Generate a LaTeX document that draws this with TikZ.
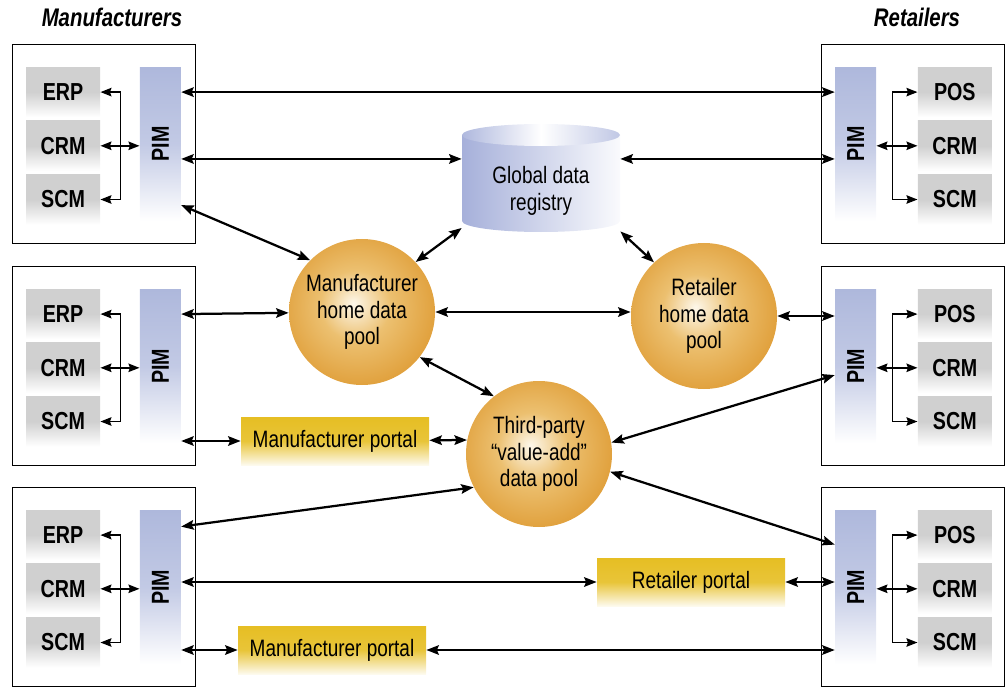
\documentclass[tikz,border=0pt]{standalone}
\usepackage{fontspec}
\setmainfont{Liberation Sans}[FakeStretch=0.8]
\usepackage{graphicx}
\usepackage{xcolor}
\usepackage{tikz}
\usetikzlibrary{arrows.meta,positioning}
\definecolor{modgray}  {RGB}{208,208,208}
\definecolor{pimblue}  {RGB}{174,184,220}
\definecolor{regblue}  {RGB}{166,176,218}
\definecolor{portgold} {RGB}{230,190,35}
\definecolor{poolin}   {RGB}{253,247,234}
\definecolor{poollight}{RGB}{236,192,112}
\definecolor{poolmid}  {RGB}{222,154,50}
\definecolor{poolout}  {RGB}{206,134,32}
\pgfdeclareradialshading{poolball}{\pgfpoint{-3bp}{3bp}}{%
  color(0bp)=(poolin); color(12bp)=(poollight);
  color(30bp)=(poolmid); color(50bp)=(poolout)}
\newcommand{\lblsize}{\fontsize{13.5}{15}\selectfont}
\tikzset{
  sysbox/.style ={draw, line width=0.3mm, minimum width=36.6mm,
                  minimum height=39.8mm, inner sep=0pt},
  modbox/.style ={top color=modgray, bottom color=white, middle color=modgray,
                  minimum width=14.8mm, minimum height=10mm, inner sep=0pt,
                  font=\fontsize{14}{15}\selectfont\bfseries},
  pimbox/.style ={top color=pimblue, bottom color=white, middle color=pimblue!75,
                  minimum width=8.2mm, minimum height=30.8mm, inner sep=0pt,
                  font=\fontsize{14}{15}\selectfont\bfseries},
  portbox/.style={top color=portgold, bottom color=portgold!8,
                  middle color=portgold!90, minimum width=37.6mm,
                  minimum height=9.6mm, inner sep=0pt, font=\lblsize},
  pool/.style   ={circle, shade, shading=poolball, minimum size=29.2mm,
                  inner sep=0pt, align=center, font=\lblsize},
  regbox/.style ={minimum width=31.6mm, minimum height=17.2mm, inner sep=0pt,
                  align=center, font=\lblsize},
  sidetitle/.style={font=\fontsize{14.5}{16}\selectfont\bfseries\itshape},
  arr/.style    ={{Stealth[length=2.5mm,width=1.9mm,inset=0.4mm]}-{Stealth[length=2.5mm,width=1.9mm,inset=0.4mm]},
                  line width=0.45mm},
  brk/.style    ={{Stealth[length=2.2mm,width=1.7mm,inset=0.3mm]}-{Stealth[length=2.2mm,width=1.7mm,inset=0.3mm]},
                  line width=0.3mm},
}
\begin{document}
\begin{tikzpicture}[x=0.2mm,y=-0.2mm]
  \useasboundingbox (0,0) rectangle (1007,688);

  \node[sidetitle] (mtitle) at (112,17) {Manufacturers};
  \node[sidetitle] (rtitle) at (917,17) {Retailers};

  % manufacturer and retailer systems
  \foreach \r/\y in {1/144,2/366,3/587}{
    \node[sysbox] (sysL\r) at (104,\y) {};
    \node[modbox, below right=4.6mm and 2.8mm of sysL\r.north west] (erpL\r) {ERP};
    \node[modbox, below=0.6mm of erpL\r] (crmL\r) {CRM};
    \node[modbox, below=0.6mm of crmL\r] (scmL\r) {SCM};
    \node[pimbox, below right=0mm and 7.8mm of erpL\r.north east] (pimL\r)
         {\rotatebox{90}{PIM}};
    \draw[brk] (erpL\r.east) -- ++(4mm,0) |- (scmL\r.east);
    \draw[brk] (crmL\r.east) -- (pimL\r.west |- crmL\r.east);

    \node[sysbox] (sysR\r) at (913,\y) {};
    \node[pimbox, below right=4.6mm and 2.8mm of sysR\r.north west] (pimR\r)
         {\rotatebox{90}{PIM}};
    \node[modbox, below right=0mm and 8.2mm of pimR\r.north east] (posR\r) {POS};
    \node[modbox, below=0.6mm of posR\r] (crmR\r) {CRM};
    \node[modbox, below=0.6mm of crmR\r] (scmR\r) {SCM};
    \draw[brk] (posR\r.west) -- ++(-5mm,0) |- (scmR\r.west);
    \draw[brk] (pimR\r.east |- crmR\r.west) -- (crmR\r.west);
  }

  % global registry (cylinder)
  \shade[left color=regblue, right color=regblue!6]
        (462,135) -- (462,221) arc[start angle=180,end angle=0,x radius=79,y radius=11]
        -- (620,135) -- cycle;
  \shade[left color=regblue!90, right color=regblue!70, middle color=white]
        (541,135) ellipse[x radius=79, y radius=11];
  \node[regbox] (reg) at (541,191) {Global data\\registry};

  % data pools and portals
  \node[pool] (mpool) at (362,312) {Manufacturer\\home data\\pool};
  \node[pool] (rpool) at (704,316) {Retailer\\home data\\pool};
  \node[pool] (tpool) at (539,454) {Third-party\\“value-add”\\data pool};
  \node[portbox] (mport1) at (335,441) {Manufacturer portal};
  \node[portbox] (rport)  at (691,582) {Retailer portal};
  \node[portbox] (mport2) at (332,650) {Manufacturer portal};

  \draw[arr] (pimL1.east |- erpL1) -- (pimR1.west |- erpL1);
  \draw[arr] (pimL1.east |- reg.158) -- (reg.158);
  \draw[arr] (reg.22) -- (pimR1.west |- reg.22);
  \draw[arr] ([yshift=-12.2mm]pimL1.east) -- (mpool.135);
  \draw[arr] (reg.-155) -- (mpool.43);\draw[arr] (reg.-27) -- (rpool.133);
  \draw[arr] (pimL2.east |- erpL2) -- (mpool);
  \draw[arr] (mpool.east) -- (rpool.west |- mpool.east);
  \draw[arr] (rpool.east) -- (pimR2.west |- rpool.east);
  \draw[arr] (mpool.-38) -- (tpool.128);
  \draw[arr] (pimL2.east |- mport1) -- (mport1);\draw[arr] (mport1) -- (tpool.169);
  \draw[arr] (tpool.9) -- ([yshift=-1.8mm]pimR2.west);
  \draw[arr] ([yshift=12.1mm]pimL3.east) -- (tpool.207);
  \draw[arr] (tpool.-14) -- ([yshift=8.5mm]pimR3.west);
  \draw[arr] (pimL3.east |- rport) -- (rport);\draw[arr] (rport) -- (pimR3.west |- rport);
  \draw[arr] (pimL3.east |- mport2) -- (mport2);\draw[arr] (mport2) -- (pimR3.west |- mport2);
\end{tikzpicture}
\end{document}
